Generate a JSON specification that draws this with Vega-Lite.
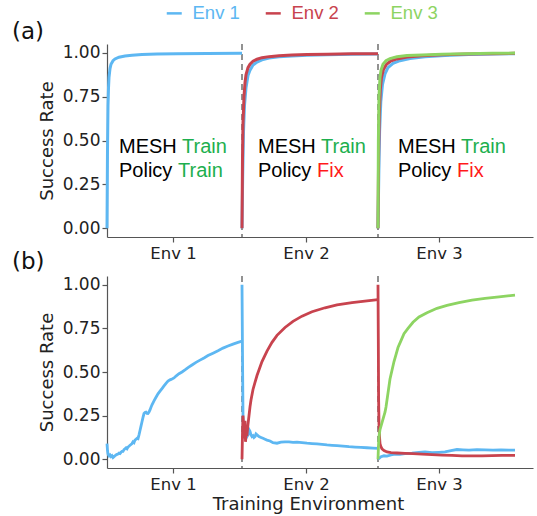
{
  "$schema": "https://vega.github.io/schema/vega-lite/v6.json",
  "padding": {"left": 12, "top": 4, "right": 2, "bottom": 0},
  "bounds": "flush",
  "spacing": 39,
  "config": {
    "view": {"stroke": null},
    "font": "DejaVu Sans",
    "axis": {"domainColor": "#555", "tickColor": "#555", "grid": false, "labelColor": "#222", "titleColor": "#222", "labelFont": "DejaVu Sans", "titleFont": "DejaVu Sans", "titleFontWeight": "normal", "labelFontSize": 17, "titleFontSize": 18, "tickSize": 5, "domainWidth": 1.2, "tickWidth": 1.2, "labelPadding": 2},
    "title": {"font": "DejaVu Sans", "fontWeight": "normal", "fontSize": 23, "color": "#111", "anchor": "start"}
  },
  "datasets": {
    "a": [
      {"s":"Env 1","g":1,"x":0,"y":0},{"s":"Env 1","g":1,"x":0.5,"y":0.45},{"s":"Env 1","g":1,"x":1,"y":0.7},{"s":"Env 1","g":1,"x":1.5,"y":0.8},{"s":"Env 1","g":1,"x":2,"y":0.86},{"s":"Env 1","g":1,"x":3,"y":0.91},{"s":"Env 1","g":1,"x":4,"y":0.935},{"s":"Env 1","g":1,"x":6,"y":0.955},{"s":"Env 1","g":1,"x":8,"y":0.965},{"s":"Env 1","g":1,"x":12,"y":0.975},{"s":"Env 1","g":1,"x":18,"y":0.982},{"s":"Env 1","g":1,"x":25,"y":0.986},{"s":"Env 1","g":1,"x":35,"y":0.99},{"s":"Env 1","g":1,"x":50,"y":0.993},{"s":"Env 1","g":1,"x":70,"y":0.995},{"s":"Env 1","g":1,"x":100,"y":0.996},{"s":"Env 1","g":1,"x":135,"y":0.997},
      {"s":"Env 1","g":2,"x":135,"y":0},{"s":"Env 1","g":2,"x":135.7,"y":0.3},{"s":"Env 1","g":2,"x":136.5,"y":0.55},{"s":"Env 1","g":2,"x":137.5,"y":0.7},{"s":"Env 1","g":2,"x":139,"y":0.8},{"s":"Env 1","g":2,"x":141,"y":0.87},{"s":"Env 1","g":2,"x":143,"y":0.9},{"s":"Env 1","g":2,"x":146,"y":0.93},{"s":"Env 1","g":2,"x":150,"y":0.947},{"s":"Env 1","g":2,"x":155,"y":0.96},{"s":"Env 1","g":2,"x":162,"y":0.97},{"s":"Env 1","g":2,"x":172,"y":0.977},{"s":"Env 1","g":2,"x":185,"y":0.982},{"s":"Env 1","g":2,"x":200,"y":0.986},{"s":"Env 1","g":2,"x":220,"y":0.989},{"s":"Env 1","g":2,"x":245,"y":0.991},{"s":"Env 1","g":2,"x":271,"y":0.993},
      {"s":"Env 2","g":2,"x":135,"y":0},{"s":"Env 2","g":2,"x":135.5,"y":0.4},{"s":"Env 2","g":2,"x":136,"y":0.6},{"s":"Env 2","g":2,"x":137,"y":0.75},{"s":"Env 2","g":2,"x":138,"y":0.83},{"s":"Env 2","g":2,"x":139,"y":0.875},{"s":"Env 2","g":2,"x":141,"y":0.915},{"s":"Env 2","g":2,"x":143,"y":0.935},{"s":"Env 2","g":2,"x":146,"y":0.952},{"s":"Env 2","g":2,"x":150,"y":0.963},{"s":"Env 2","g":2,"x":155,"y":0.972},{"s":"Env 2","g":2,"x":162,"y":0.978},{"s":"Env 2","g":2,"x":172,"y":0.983},{"s":"Env 2","g":2,"x":185,"y":0.987},{"s":"Env 2","g":2,"x":200,"y":0.99},{"s":"Env 2","g":2,"x":220,"y":0.992},{"s":"Env 2","g":2,"x":245,"y":0.994},{"s":"Env 2","g":2,"x":271,"y":0.995},
      {"s":"Env 1","g":3,"x":271,"y":0},{"s":"Env 1","g":3,"x":271.8,"y":0.3},{"s":"Env 1","g":3,"x":272.6,"y":0.55},{"s":"Env 1","g":3,"x":273.8,"y":0.72},{"s":"Env 1","g":3,"x":275.5,"y":0.82},{"s":"Env 1","g":3,"x":278,"y":0.88},{"s":"Env 1","g":3,"x":281,"y":0.915},{"s":"Env 1","g":3,"x":286,"y":0.94},{"s":"Env 1","g":3,"x":293,"y":0.955},{"s":"Env 1","g":3,"x":303,"y":0.967},{"s":"Env 1","g":3,"x":318,"y":0.977},{"s":"Env 1","g":3,"x":338,"y":0.985},{"s":"Env 1","g":3,"x":362,"y":0.99},{"s":"Env 1","g":3,"x":386,"y":0.993},{"s":"Env 1","g":3,"x":408,"y":0.995},
      {"s":"Env 2","g":3,"x":271,"y":0},{"s":"Env 2","g":3,"x":271.6,"y":0.4},{"s":"Env 2","g":3,"x":272.3,"y":0.65},{"s":"Env 2","g":3,"x":273.3,"y":0.79},{"s":"Env 2","g":3,"x":274.5,"y":0.86},{"s":"Env 2","g":3,"x":276.5,"y":0.905},{"s":"Env 2","g":3,"x":279.5,"y":0.935},{"s":"Env 2","g":3,"x":283.5,"y":0.952},{"s":"Env 2","g":3,"x":290,"y":0.965},{"s":"Env 2","g":3,"x":300,"y":0.976},{"s":"Env 2","g":3,"x":315,"y":0.983},{"s":"Env 2","g":3,"x":335,"y":0.989},{"s":"Env 2","g":3,"x":360,"y":0.993},{"s":"Env 2","g":3,"x":385,"y":0.995},{"s":"Env 2","g":3,"x":408,"y":0.997},
      {"s":"Env 3","g":3,"x":271,"y":0},{"s":"Env 3","g":3,"x":271.4,"y":0.5},{"s":"Env 3","g":3,"x":272,"y":0.75},{"s":"Env 3","g":3,"x":273,"y":0.86},{"s":"Env 3","g":3,"x":274,"y":0.9},{"s":"Env 3","g":3,"x":276,"y":0.935},{"s":"Env 3","g":3,"x":279,"y":0.955},{"s":"Env 3","g":3,"x":283,"y":0.967},{"s":"Env 3","g":3,"x":290,"y":0.977},{"s":"Env 3","g":3,"x":300,"y":0.984},{"s":"Env 3","g":3,"x":315,"y":0.988},{"s":"Env 3","g":3,"x":335,"y":0.992},{"s":"Env 3","g":3,"x":360,"y":0.995},{"s":"Env 3","g":3,"x":385,"y":0.997},{"s":"Env 3","g":3,"x":408,"y":0.998}
    ],
    "b": [
      {"s":"Env 1","g":1,"x":0,"y":0.09},{"s":"Env 1","g":1,"x":0.5,"y":0.05},{"s":"Env 1","g":1,"x":1,"y":0.03},{"s":"Env 1","g":1,"x":2,"y":0.02},{"s":"Env 1","g":1,"x":3,"y":0.025},{"s":"Env 1","g":1,"x":4,"y":0.015},{"s":"Env 1","g":1,"x":5,"y":0.02},{"s":"Env 1","g":1,"x":6,"y":0.01},{"s":"Env 1","g":1,"x":7,"y":0.015},{"s":"Env 1","g":1,"x":8,"y":0.02},{"s":"Env 1","g":1,"x":9,"y":0.025},{"s":"Env 1","g":1,"x":10,"y":0.028},{"s":"Env 1","g":1,"x":11,"y":0.03},{"s":"Env 1","g":1,"x":12,"y":0.035},{"s":"Env 1","g":1,"x":13,"y":0.033},{"s":"Env 1","g":1,"x":14,"y":0.04},{"s":"Env 1","g":1,"x":15,"y":0.045},{"s":"Env 1","g":1,"x":16,"y":0.045},{"s":"Env 1","g":1,"x":17,"y":0.055},{"s":"Env 1","g":1,"x":18,"y":0.06},{"s":"Env 1","g":1,"x":19,"y":0.065},{"s":"Env 1","g":1,"x":20,"y":0.06},{"s":"Env 1","g":1,"x":21,"y":0.07},{"s":"Env 1","g":1,"x":22,"y":0.075},{"s":"Env 1","g":1,"x":23,"y":0.08},{"s":"Env 1","g":1,"x":24,"y":0.085},{"s":"Env 1","g":1,"x":25,"y":0.09},{"s":"Env 1","g":1,"x":26,"y":0.1},{"s":"Env 1","g":1,"x":27,"y":0.095},{"s":"Env 1","g":1,"x":28,"y":0.11},{"s":"Env 1","g":1,"x":29,"y":0.115},{"s":"Env 1","g":1,"x":30,"y":0.12},{"s":"Env 1","g":1,"x":31,"y":0.118},{"s":"Env 1","g":1,"x":32,"y":0.14},{"s":"Env 1","g":1,"x":33,"y":0.165},{"s":"Env 1","g":1,"x":34,"y":0.19},{"s":"Env 1","g":1,"x":35,"y":0.215},{"s":"Env 1","g":1,"x":36,"y":0.24},{"s":"Env 1","g":1,"x":37,"y":0.262},{"s":"Env 1","g":1,"x":38,"y":0.268},{"s":"Env 1","g":1,"x":39,"y":0.27},{"s":"Env 1","g":1,"x":40,"y":0.263},{"s":"Env 1","g":1,"x":41,"y":0.262},{"s":"Env 1","g":1,"x":42,"y":0.27},{"s":"Env 1","g":1,"x":43,"y":0.283},{"s":"Env 1","g":1,"x":44,"y":0.298},{"s":"Env 1","g":1,"x":45,"y":0.312},{"s":"Env 1","g":1,"x":47,"y":0.335},{"s":"Env 1","g":1,"x":49,"y":0.355},{"s":"Env 1","g":1,"x":51,"y":0.375},{"s":"Env 1","g":1,"x":53,"y":0.39},{"s":"Env 1","g":1,"x":55,"y":0.405},{"s":"Env 1","g":1,"x":57,"y":0.42},{"s":"Env 1","g":1,"x":59,"y":0.435},{"s":"Env 1","g":1,"x":61,"y":0.448},{"s":"Env 1","g":1,"x":63,"y":0.455},{"s":"Env 1","g":1,"x":65,"y":0.46},{"s":"Env 1","g":1,"x":67,"y":0.466},{"s":"Env 1","g":1,"x":69,"y":0.477},{"s":"Env 1","g":1,"x":72,"y":0.49},{"s":"Env 1","g":1,"x":75,"y":0.5},{"s":"Env 1","g":1,"x":78,"y":0.512},{"s":"Env 1","g":1,"x":81,"y":0.525},{"s":"Env 1","g":1,"x":85,"y":0.54},{"s":"Env 1","g":1,"x":89,"y":0.555},{"s":"Env 1","g":1,"x":93,"y":0.568},{"s":"Env 1","g":1,"x":97,"y":0.58},{"s":"Env 1","g":1,"x":101,"y":0.594},{"s":"Env 1","g":1,"x":106,"y":0.608},{"s":"Env 1","g":1,"x":111,"y":0.622},{"s":"Env 1","g":1,"x":116,"y":0.637},{"s":"Env 1","g":1,"x":121,"y":0.649},{"s":"Env 1","g":1,"x":126,"y":0.66},{"s":"Env 1","g":1,"x":131,"y":0.67},{"s":"Env 1","g":1,"x":135,"y":0.677},
      {"s":"Env 1","g":2,"x":135,"y":1.0},{"s":"Env 1","g":2,"x":135.5,"y":0.6},{"s":"Env 1","g":2,"x":136,"y":0.25},{"s":"Env 1","g":2,"x":136.5,"y":0.17},{"s":"Env 1","g":2,"x":137,"y":0.14},{"s":"Env 1","g":2,"x":138,"y":0.16},{"s":"Env 1","g":2,"x":139,"y":0.15},{"s":"Env 1","g":2,"x":140,"y":0.13},{"s":"Env 1","g":2,"x":141,"y":0.14},{"s":"Env 1","g":2,"x":142,"y":0.17},{"s":"Env 1","g":2,"x":143,"y":0.16},{"s":"Env 1","g":2,"x":144,"y":0.14},{"s":"Env 1","g":2,"x":145,"y":0.13},{"s":"Env 1","g":2,"x":146,"y":0.135},{"s":"Env 1","g":2,"x":147,"y":0.125},{"s":"Env 1","g":2,"x":148,"y":0.13},{"s":"Env 1","g":2,"x":149,"y":0.145},{"s":"Env 1","g":2,"x":150,"y":0.14},{"s":"Env 1","g":2,"x":152,"y":0.13},{"s":"Env 1","g":2,"x":154,"y":0.125},{"s":"Env 1","g":2,"x":156,"y":0.12},{"s":"Env 1","g":2,"x":158,"y":0.115},{"s":"Env 1","g":2,"x":160,"y":0.11},{"s":"Env 1","g":2,"x":163,"y":0.105},{"s":"Env 1","g":2,"x":166,"y":0.095},{"s":"Env 1","g":2,"x":170,"y":0.092},{"s":"Env 1","g":2,"x":174,"y":0.098},{"s":"Env 1","g":2,"x":178,"y":0.1},{"s":"Env 1","g":2,"x":182,"y":0.1},{"s":"Env 1","g":2,"x":186,"y":0.097},{"s":"Env 1","g":2,"x":190,"y":0.098},{"s":"Env 1","g":2,"x":195,"y":0.095},{"s":"Env 1","g":2,"x":200,"y":0.092},{"s":"Env 1","g":2,"x":205,"y":0.09},{"s":"Env 1","g":2,"x":210,"y":0.088},{"s":"Env 1","g":2,"x":215,"y":0.085},{"s":"Env 1","g":2,"x":220,"y":0.082},{"s":"Env 1","g":2,"x":225,"y":0.08},{"s":"Env 1","g":2,"x":230,"y":0.078},{"s":"Env 1","g":2,"x":236,"y":0.075},{"s":"Env 1","g":2,"x":242,"y":0.072},{"s":"Env 1","g":2,"x":248,"y":0.07},{"s":"Env 1","g":2,"x":254,"y":0.068},{"s":"Env 1","g":2,"x":260,"y":0.066},{"s":"Env 1","g":2,"x":266,"y":0.064},{"s":"Env 1","g":2,"x":271,"y":0.062},
      {"s":"Env 2","g":2,"x":135,"y":0},{"s":"Env 2","g":2,"x":135.5,"y":0.15},{"s":"Env 2","g":2,"x":136,"y":0.25},{"s":"Env 2","g":2,"x":136.5,"y":0.2},{"s":"Env 2","g":2,"x":137,"y":0.12},{"s":"Env 2","g":2,"x":137.5,"y":0.18},{"s":"Env 2","g":2,"x":138,"y":0.22},{"s":"Env 2","g":2,"x":138.5,"y":0.1},{"s":"Env 2","g":2,"x":139,"y":0.14},{"s":"Env 2","g":2,"x":140,"y":0.14},{"s":"Env 2","g":2,"x":141,"y":0.2},{"s":"Env 2","g":2,"x":142,"y":0.25},{"s":"Env 2","g":2,"x":143,"y":0.3},{"s":"Env 2","g":2,"x":144,"y":0.34},{"s":"Env 2","g":2,"x":146,"y":0.4},{"s":"Env 2","g":2,"x":148,"y":0.44},{"s":"Env 2","g":2,"x":150,"y":0.48},{"s":"Env 2","g":2,"x":155,"y":0.56},{"s":"Env 2","g":2,"x":160,"y":0.62},{"s":"Env 2","g":2,"x":165,"y":0.67},{"s":"Env 2","g":2,"x":170,"y":0.71},{"s":"Env 2","g":2,"x":178,"y":0.755},{"s":"Env 2","g":2,"x":186,"y":0.79},{"s":"Env 2","g":2,"x":195,"y":0.82},{"s":"Env 2","g":2,"x":205,"y":0.845},{"s":"Env 2","g":2,"x":218,"y":0.868},{"s":"Env 2","g":2,"x":230,"y":0.884},{"s":"Env 2","g":2,"x":245,"y":0.898},{"s":"Env 2","g":2,"x":260,"y":0.908},{"s":"Env 2","g":2,"x":271,"y":0.915},
      {"s":"Env 1","g":3,"x":271,"y":0.0},{"s":"Env 1","g":3,"x":272,"y":0.005},{"s":"Env 1","g":3,"x":274,"y":0.015},{"s":"Env 1","g":3,"x":277,"y":0.02},{"s":"Env 1","g":3,"x":280,"y":0.018},{"s":"Env 1","g":3,"x":284,"y":0.025},{"s":"Env 1","g":3,"x":288,"y":0.03},{"s":"Env 1","g":3,"x":293,"y":0.028},{"s":"Env 1","g":3,"x":298,"y":0.032},{"s":"Env 1","g":3,"x":305,"y":0.035},{"s":"Env 1","g":3,"x":312,"y":0.04},{"s":"Env 1","g":3,"x":318,"y":0.042},{"s":"Env 1","g":3,"x":325,"y":0.038},{"s":"Env 1","g":3,"x":332,"y":0.04},{"s":"Env 1","g":3,"x":338,"y":0.042},{"s":"Env 1","g":3,"x":344,"y":0.05},{"s":"Env 1","g":3,"x":350,"y":0.056},{"s":"Env 1","g":3,"x":356,"y":0.054},{"s":"Env 1","g":3,"x":362,"y":0.052},{"s":"Env 1","g":3,"x":370,"y":0.055},{"s":"Env 1","g":3,"x":378,"y":0.054},{"s":"Env 1","g":3,"x":386,"y":0.052},{"s":"Env 1","g":3,"x":394,"y":0.053},{"s":"Env 1","g":3,"x":402,"y":0.052},{"s":"Env 1","g":3,"x":408,"y":0.052},
      {"s":"Env 2","g":3,"x":271,"y":1.0},{"s":"Env 2","g":3,"x":271.3,"y":0.7},{"s":"Env 2","g":3,"x":271.6,"y":0.35},{"s":"Env 2","g":3,"x":272,"y":0.2},{"s":"Env 2","g":3,"x":272.5,"y":0.13},{"s":"Env 2","g":3,"x":273,"y":0.09},{"s":"Env 2","g":3,"x":274,"y":0.07},{"s":"Env 2","g":3,"x":275,"y":0.06},{"s":"Env 2","g":3,"x":277,"y":0.05},{"s":"Env 2","g":3,"x":280,"y":0.042},{"s":"Env 2","g":3,"x":284,"y":0.038},{"s":"Env 2","g":3,"x":290,"y":0.036},{"s":"Env 2","g":3,"x":298,"y":0.034},{"s":"Env 2","g":3,"x":306,"y":0.032},{"s":"Env 2","g":3,"x":315,"y":0.03},{"s":"Env 2","g":3,"x":325,"y":0.027},{"s":"Env 2","g":3,"x":335,"y":0.024},{"s":"Env 2","g":3,"x":345,"y":0.022},{"s":"Env 2","g":3,"x":355,"y":0.02},{"s":"Env 2","g":3,"x":365,"y":0.019},{"s":"Env 2","g":3,"x":375,"y":0.02},{"s":"Env 2","g":3,"x":385,"y":0.021},{"s":"Env 2","g":3,"x":395,"y":0.022},{"s":"Env 2","g":3,"x":408,"y":0.022},
      {"s":"Env 3","g":3,"x":271,"y":0},{"s":"Env 3","g":3,"x":271.5,"y":0.08},{"s":"Env 3","g":3,"x":272,"y":0.13},{"s":"Env 3","g":3,"x":273,"y":0.17},{"s":"Env 3","g":3,"x":274,"y":0.19},{"s":"Env 3","g":3,"x":275,"y":0.21},{"s":"Env 3","g":3,"x":276,"y":0.23},{"s":"Env 3","g":3,"x":277,"y":0.25},{"s":"Env 3","g":3,"x":278,"y":0.27},{"s":"Env 3","g":3,"x":279,"y":0.3},{"s":"Env 3","g":3,"x":280,"y":0.34},{"s":"Env 3","g":3,"x":281,"y":0.38},{"s":"Env 3","g":3,"x":282,"y":0.42},{"s":"Env 3","g":3,"x":283,"y":0.46},{"s":"Env 3","g":3,"x":285,"y":0.51},{"s":"Env 3","g":3,"x":287,"y":0.56},{"s":"Env 3","g":3,"x":289,"y":0.6},{"s":"Env 3","g":3,"x":291,"y":0.64},{"s":"Env 3","g":3,"x":294,"y":0.68},{"s":"Env 3","g":3,"x":297,"y":0.72},{"s":"Env 3","g":3,"x":301,"y":0.75},{"s":"Env 3","g":3,"x":306,"y":0.785},{"s":"Env 3","g":3,"x":312,"y":0.815},{"s":"Env 3","g":3,"x":320,"y":0.84},{"s":"Env 3","g":3,"x":330,"y":0.865},{"s":"Env 3","g":3,"x":340,"y":0.882},{"s":"Env 3","g":3,"x":352,"y":0.898},{"s":"Env 3","g":3,"x":365,"y":0.912},{"s":"Env 3","g":3,"x":378,"y":0.922},{"s":"Env 3","g":3,"x":392,"y":0.931},{"s":"Env 3","g":3,"x":408,"y":0.94}
    ],
    "ann": [
      {"x":12,"y":0.427,"t":"MESH","k":"k"},{"x":12,"y":0.29,"t":"Policy","k":"k"},{"x":75,"y":0.427,"t":"Train","k":"g"},{"x":71,"y":0.29,"t":"Train","k":"g"},
      {"x":151,"y":0.427,"t":"MESH","k":"k"},{"x":151,"y":0.29,"t":"Policy","k":"k"},{"x":214,"y":0.427,"t":"Train","k":"g"},{"x":210,"y":0.29,"t":"Fix","k":"r"},
      {"x":291,"y":0.427,"t":"MESH","k":"k"},{"x":291,"y":0.29,"t":"Policy","k":"k"},{"x":354,"y":0.427,"t":"Train","k":"g"},{"x":350,"y":0.29,"t":"Fix","k":"r"}
    ],
    "splits": [{"x":135},{"x":271}]
  },
  "vconcat": [
    {
      "width": 426, "height": 193,
      "title": {"text": "(a)", "dx": -95, "offset": -1, "frame": "group"},
      "layer": [
        {"data": {"name": "splits"}, "mark": {"type": "rule", "strokeDash": [6, 4], "color": "#777", "strokeWidth": 1.6},
         "encoding": {"x": {"field": "x", "type": "quantitative", "scale": {"domain": [0, 426], "nice": false, "zero": false}}}},
        {"data": {"name": "a"}, "mark": {"type": "line"},
         "encoding": {
           "x": {"field": "x", "type": "quantitative", "scale": {"domain": [0, 426], "nice": false, "zero": false},
                 "axis": {"values": [66, 199, 332], "labelExpr": "datum.value < 100 ? 'Env 1' : datum.value < 250 ? 'Env 2' : 'Env 3'", "title": null, "labelFontSize": 16.5, "labelPadding": 3}},
           "y": {"field": "y", "type": "quantitative", "scale": {"domain": [-0.05, 1.05], "nice": false, "zero": false},
                 "axis": {"values": [0, 0.25, 0.5, 0.75, 1], "format": ".2f", "title": "Success Rate", "titlePadding": 6}},
           "color": {"field": "s", "type": "nominal", "scale": {"domain": ["Env 1", "Env 2", "Env 3"], "range": ["#5DB7F2", "#C8434E", "#8DD462"]},
                     "legend": {"orient": "none", "legendX": 58, "legendY": -40, "direction": "horizontal", "title": null, "symbolType": "stroke", "symbolSize": 225, "symbolStrokeWidth": 2.5, "labelFontSize": 18.5, "labelFont": "Liberation Sans", "labelOffset": 9, "columnPadding": 20,
                                "encode": {"labels": {"update": {"fill": {"scale": "color", "field": "value"}}}}}},
           "strokeWidth": {"field": "s", "type": "nominal", "scale": {"domain": ["Env 1", "Env 2", "Env 3"], "range": [3, 3, 4]}, "legend": null},
           "detail": {"field": "g"}
         }},
        {"data": {"name": "ann"}, "transform": [{"filter": "datum.k == 'k'"}], "mark": {"type": "text", "align": "left", "baseline": "alphabetic", "font": "Liberation Sans", "fontSize": 20, "color": "#000"},
         "encoding": {"x": {"field": "x", "type": "quantitative"}, "y": {"field": "y", "type": "quantitative"}, "text": {"field": "t"}}},
        {"data": {"name": "ann"}, "transform": [{"filter": "datum.k == 'g'"}], "mark": {"type": "text", "align": "left", "baseline": "alphabetic", "font": "Liberation Sans", "fontSize": 20, "color": "#1DAF4E"},
         "encoding": {"x": {"field": "x", "type": "quantitative"}, "y": {"field": "y", "type": "quantitative"}, "text": {"field": "t"}}},
        {"data": {"name": "ann"}, "transform": [{"filter": "datum.k == 'r'"}], "mark": {"type": "text", "align": "left", "baseline": "alphabetic", "font": "Liberation Sans", "fontSize": 20, "color": "#FF1A1A"},
         "encoding": {"x": {"field": "x", "type": "quantitative"}, "y": {"field": "y", "type": "quantitative"}, "text": {"field": "t"}}}
      ]
    },
    {
      "width": 426, "height": 192,
      "title": {"text": "(b)", "dx": -95, "offset": 1, "frame": "group"},
      "layer": [
        {"data": {"name": "splits"}, "mark": {"type": "rule", "strokeDash": [6, 4], "color": "#777", "strokeWidth": 1.6},
         "encoding": {"x": {"field": "x", "type": "quantitative", "scale": {"domain": [0, 426], "nice": false, "zero": false}}}},
        {"data": {"name": "b"}, "mark": {"type": "line", "strokeWidth": 2.8},
         "encoding": {
           "x": {"field": "x", "type": "quantitative", "scale": {"domain": [0, 426], "nice": false, "zero": false},
                 "axis": {"values": [66, 199, 332], "labelExpr": "datum.value < 100 ? 'Env 1' : datum.value < 250 ? 'Env 2' : 'Env 3'", "title": "Training Environment", "labelFontSize": 16.5, "labelPadding": 3, "titlePadding": 3, "titleX": 201}},
           "y": {"field": "y", "type": "quantitative", "scale": {"domain": [-0.05, 1.05], "nice": false, "zero": false},
                 "axis": {"values": [0, 0.25, 0.5, 0.75, 1], "format": ".2f", "title": "Success Rate", "titlePadding": 6}},
           "color": {"field": "s", "type": "nominal", "scale": {"domain": ["Env 1", "Env 2", "Env 3"], "range": ["#5DB7F2", "#C8434E", "#8DD462"]}},
           "detail": {"field": "g"}
         }}
      ]
    }
  ],
  "resolve": {"scale": {"color": "shared", "strokeWidth": "independent", "x": "independent", "y": "independent"}}
}
